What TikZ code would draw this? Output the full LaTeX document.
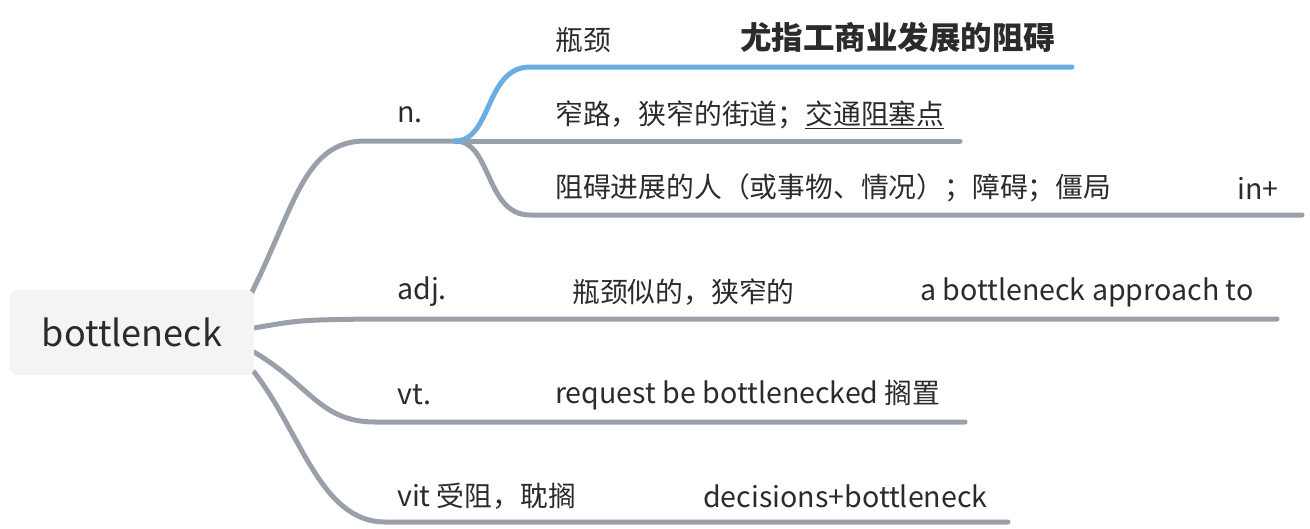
\documentclass[tikz,border=0pt]{standalone}
\usepackage{fontspec}
\setmainfont{Noto Sans CJK SC}
\definecolor{linegray}{HTML}{99A0AA}
\definecolor{lineblue}{HTML}{69ADE2}
\definecolor{txt}{HTML}{2B2B2B}
\definecolor{rootfill}{HTML}{F4F4F4}
\newcommand\latn[1]{{\fontsize{28.6}{32}\selectfont #1}}
\tikzset{
  br/.style={draw=linegray,line width=5pt,line cap=round},
  brblue/.style={draw=lineblue,line width=5pt,line cap=round},
  lbl/.style={anchor=west,inner sep=0pt,text=txt,font=\fontsize{27.8}{32}\selectfont},
  latlbl/.style={lbl,font=\fontsize{28.6}{32}\selectfont},
  rootbox/.style={fill=rootfill,rounded corners=7pt,minimum width=244pt,minimum height=85pt,inner sep=0pt,text=txt,font=\fontsize{36}{40}\selectfont}
}
\begin{document}
\begin{tikzpicture}[x=1pt,y=-1pt]
\useasboundingbox (0,0) rectangle (1310,528);
% connectors
\coordinate (r1) at (252,292);
\coordinate (r2) at (254,328);
\coordinate (r3) at (254,352);
\coordinate (r4) at (254,372);
\coordinate (nfork) at (455,141);
\coordinate (n1e) at (1072,67);
\coordinate (n2e) at (960,141);
\coordinate (n3e) at (1302,215);
\coordinate (adje) at (1277,319);
\coordinate (vte) at (965,422);
\coordinate (vite) at (1008,522);
\draw[br] (r1) .. controls (295,205) and (305,141) .. (365,141) -- (nfork);
\draw[br] (nfork) -- (n2e);
\draw[br] (nfork) .. controls (492,141) and (485,215) .. (530,215) -- (n3e);
\draw[brblue] (nfork) .. controls (492,141) and (485,67) .. (530,67) -- (n1e);
\draw[br] (r2) .. controls (300,320) .. (370,319) -- (adje);
\draw[br] (r3) .. controls (310,385) and (320,422) .. (375,422) -- (vte);
\draw[br] (r4) .. controls (300,430) and (320,522) .. (385,522) -- (vite);
% root
\node[rootbox] (root) at (132,332.5) {bottleneck};
% labels
\node[latlbl] (n) at (397,115) {n.};
\node[lbl] (n1) at (555,40) {瓶颈};
\node[lbl,font=\fontsize{31.5}{36}\selectfont\bfseries] (n1b) at (740,38) {尤指工商业发展的阻碍};
\node[lbl] (n2) at (555,115) {窄路，狭窄的街道；\underline{交通阻塞点}};
\node[lbl] (n3) at (555,188) {阻碍进展的人（或事物、情况）；障碍；僵局};
\node[latlbl] (n3b) at (1237,188) {in+};
\node[latlbl] (adj) at (397,292) {adj.};
\node[lbl] (adj1) at (572,292) {瓶颈似的，狭窄的};
\node[latlbl] (adj2) at (920,292) {a bottleneck approach to};
\node[latlbl] (vt) at (397,395) {vt.};
\node[lbl] (vt1) at (555,395) {\latn{request be bottlenecked} 搁置};
\node[lbl] (vit) at (397,496) {\latn{vit} 受阻，耽搁};
\node[latlbl] (vit1) at (703,496) {decisions+bottleneck};
\end{tikzpicture}
\end{document}
